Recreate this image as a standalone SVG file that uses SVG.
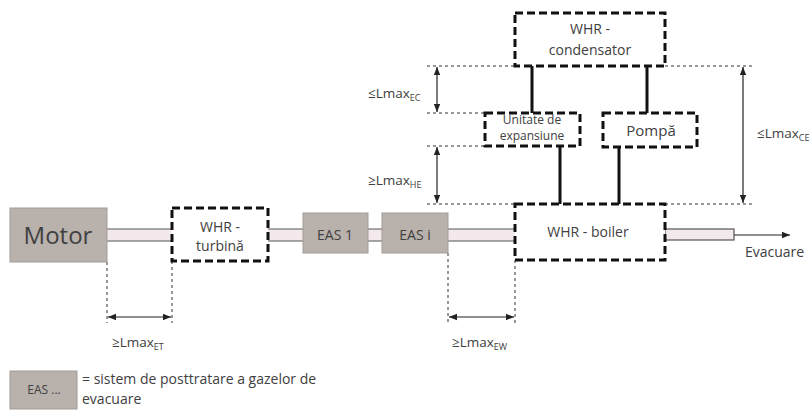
<svg xmlns="http://www.w3.org/2000/svg" width="812" height="410" viewBox="0 0 812 410">
<defs>
<style>
text{font-family:"Open Sans","Noto Sans",sans-serif;fill:#404040;}
.lbl{font-size:14px;text-anchor:middle;}
.gray{fill:#b9b1ac;stroke:#a39b96;stroke-width:1;}
.dash{fill:#fff;stroke:#111;stroke-width:3;stroke-dasharray:8 4;}
.pipe{fill:#f3e8ec;stroke:#555;stroke-width:1.2;}
.solid{stroke:#111;stroke-width:3;fill:none;}
.dot{stroke:#333;stroke-width:1;stroke-dasharray:3 3;fill:none;}
.dim{stroke:#222;stroke-width:1.2;fill:none;marker-start:url(#ah);marker-end:url(#ah);}
.lm{font-size:13.5px;}
.sub{font-size:9px;}
</style>
<marker id="ah" viewBox="0 0 10 10" refX="10" refY="5" markerWidth="8" markerHeight="8" orient="auto-start-reverse" markerUnits="userSpaceOnUse"><path d="M0,1 L10,5 L0,9 z" fill="#222"/></marker>
</defs>
<rect width="812" height="410" fill="#fff"/>
<g id="connectors">
<rect class="pipe" x="107" y="229" width="65" height="12" stroke-dasharray="65 12 65 12"/>
<rect class="pipe" x="268" y="229" width="35" height="12" stroke-dasharray="35 12 35 12"/>
<rect class="pipe" x="368" y="229" width="14" height="12" stroke-dasharray="14 12 14 12"/>
<rect class="pipe" x="448" y="229" width="67" height="12" stroke-dasharray="67 12 67 12"/>
<rect class="pipe" x="665" y="229" width="69" height="11"/>
<line x1="734" y1="235" x2="790" y2="235" stroke="#222" stroke-width="1.2" marker-end="url(#ah)"/>
<line class="solid" x1="532" y1="66" x2="532" y2="113"/>
<line class="solid" x1="647" y1="66" x2="647" y2="113"/>
<line class="solid" x1="560" y1="146" x2="560" y2="204"/>
<line class="solid" x1="619" y1="147" x2="619" y2="204"/>
<path class="dot" d="M427,66 H515 M665,66 H753 M427,113 H485 M427,146 H485 M427,204 H515 M665,204 H753 M107,262 V323 M172,261 V323 M448,253 V323 M515,260 V323"/>
<line class="dim" x1="437" y1="67" x2="437" y2="112"/>
<line class="dim" x1="437" y1="147" x2="437" y2="203"/>
<line class="dim" x1="743" y1="67" x2="743" y2="203"/>
<line class="dim" x1="108" y1="317" x2="171" y2="317"/>
<line class="dim" x1="449" y1="317" x2="514" y2="317"/>
<text class="lm" x="368" y="98">≤Lmax<tspan class="sub" dy="3">EC</tspan></text>
<text class="lm" x="368" y="185">≥Lmax<tspan class="sub" dy="3">HE</tspan></text>
<text class="lm" x="757" y="138">≤Lmax<tspan class="sub" dy="3">CE</tspan></text>
<text class="lm" x="112" y="347">≥Lmax<tspan class="sub" dy="3">ET</tspan></text>
<text class="lm" x="452" y="347">≥Lmax<tspan class="sub" dy="3">EW</tspan></text>
<text x="745" y="257" style="font-size:14px">Evacuare</text>
</g>
<g id="motor">
<rect class="gray" x="10" y="208" width="97" height="54"/>
<text class="lbl" x="58" y="244" style="font-size:24px">Motor</text>
</g>
<g id="whr-turbina">
<rect class="dash" x="172" y="208" width="96" height="53"/>
<text class="lbl" x="220" y="232">WHR -</text>
<text class="lbl" x="220" y="251">turbină</text>
</g>
<g id="eas1">
<rect class="gray" x="303" y="213" width="65" height="40"/>
<text class="lbl" x="335" y="240">EAS 1</text>
</g>
<g id="easi">
<rect class="gray" x="382" y="213" width="66" height="40"/>
<text class="lbl" x="415" y="240">EAS i</text>
</g>
<g id="whr-boiler">
<rect class="dash" x="515" y="204" width="150" height="56"/>
<text class="lbl" x="588" y="237">WHR - boiler</text>
</g>
<g id="whr-condensator">
<rect class="dash" x="515" y="13" width="150" height="53"/>
<text class="lbl" x="590" y="34">WHR -</text>
<text class="lbl" x="590" y="55">condensator</text>
</g>
<g id="unitate-expansiune">
<rect class="dash" x="485" y="113" width="95" height="33"/>
<text class="lbl" x="532" y="124" style="font-size:12px">Unitate de</text>
<text class="lbl" x="532" y="140" style="font-size:12px">expansiune</text>
</g>
<g id="pompa">
<rect class="dash" x="603" y="113" width="94" height="34"/>
<text class="lbl" x="651" y="136" style="font-size:15px">Pompă</text>
</g>
<g id="legend">
<rect class="gray" x="10" y="371" width="67" height="38"/>
<text class="lbl" x="44" y="394" style="font-size:12px">EAS ...</text>
<text x="82" y="384" style="font-size:14px">= sistem de posttratare a gazelor de</text>
<text x="82" y="404" style="font-size:14px">evacuare</text>
</g>
</svg>
